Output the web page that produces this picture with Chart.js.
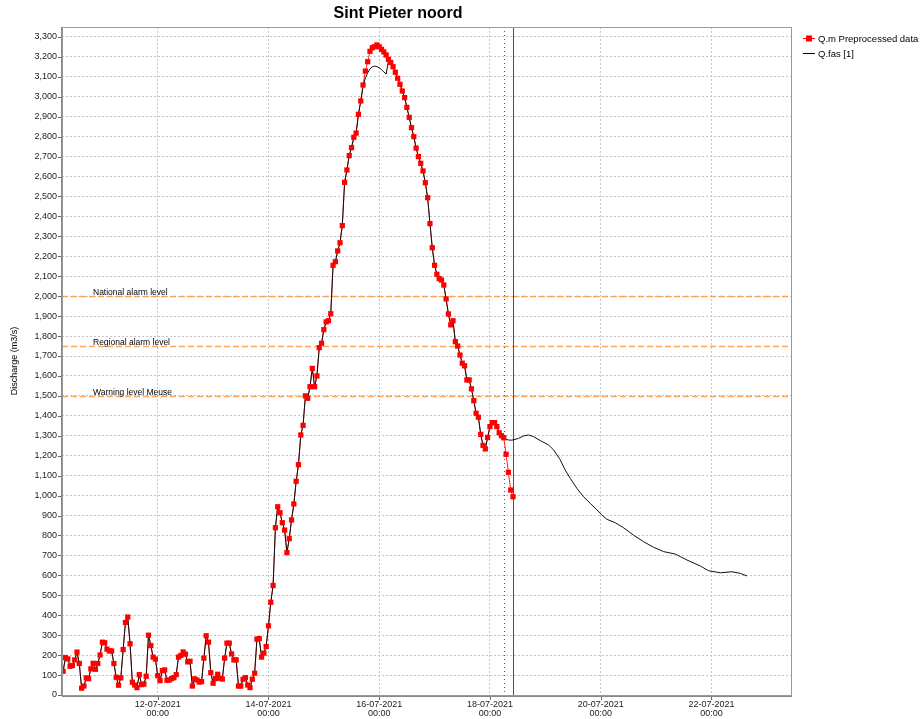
<!DOCTYPE html>
<html><head><meta charset="utf-8">
<script src="https://cdn.jsdelivr.net/npm/chart.js@4.4.0/dist/chart.umd.min.js"></script>
<style>html,body{margin:0;padding:0;background:#fff}#wrap{width:920px;height:719px;position:relative}</style>
</head><body><div id="wrap"><canvas id="c" width="920" height="719"></canvas></div>
<script>
const chartTitle = 'Sint Pieter noord';
const yAxisTitle = 'Discharge (m3/s)';
const seriesNames = ['Q.m Preprocessed data', 'Q.fas [1]'];
// hours relative to 12-07-2021 00:00
const dateTicks = [0, 48, 96, 144, 192, 240];
const dateTickLabels = [['12-07-2021','00:00'],['14-07-2021','00:00'],['16-07-2021','00:00'],['18-07-2021','00:00'],['20-07-2021','00:00'],['22-07-2021','00:00']];
const xRange = [-41.5, 274.5];
const yRange = [0, 3350];
const yTickStep = 100;
const yTickMax = 3300;

const qmStartHour = -41;
const qmValues = [
 119,188,181,144,148,176,215,158,34,45,86,82,131,159,129,158,201,265,262,230,221,221,158,89,49,86,228,364,391,257,64,50,37,102,52,55,94,300,248,190,180,
 97,72,122,126,74,75,82,87,102,190,198,216,205,166,169,45,81,75,65,67,185,297,265,112,59,82,104,84,80,185,260,260,206,176,176,45,45,79,87,50,37,79,109,280,283,190,210,243,347,465,549,
 839,944,914,864,827,714,784,878,958,1072,1155,1304,1352,
 1500,1488,1546,1638,1546,1600,1742,1764,1832,1871,1877,1912,2155,2173,2227,2268,2354,2571,2633,2705,2745,2797,2818,2912,2979,3059,3129,3176,3228,3246,3251,3260,3251,3238,3225,3210,3188,3172,3151,3123,3093,3063,3029,2996,2947,2897,2845,2800,2743,2700,2666,2628,2569,2494,2364,2243,2155,2110,2088,2081,2056,1986,1911,1856,1877,1772,1750,1705,1664,1651,1580,1580,1535,1476,1413,1393,1307,1252,1234,1292,1346,1366,1366,1346,1315,1300,1290,1207,1117,1028,994
];

const qfasStartHour = -41;
const qfasHistValues = [
 119,188,181,144,148,176,215,158,34,45,86,82,131,159,129,158,201,265,262,230,221,221,158,89,49,86,228,364,391,257,64,50,37,102,52,55,94,300,248,190,180,
 97,72,122,126,74,75,82,87,102,190,198,216,205,166,169,45,81,75,65,67,185,297,265,112,59,82,104,84,80,185,260,260,206,176,176,45,45,79,87,50,37,79,109,280,283,190,210,243,347,465,549,
 839,944,914,864,827,714,784,878,958,1072,1155,1304,1352,
 1500,1488,1546,1638,1546,1600,1742,1764,1832,1871,1877,1912,2155,2173,2227,2268,2354,2571,2633,2705,2745,2797,2818,2912,2979,3051,3095,3120,3140,3150,3154,3151,3146,3136,3125,3114,3180,3172,3151,3123,3093,3063,3029,2996,2947,2897,2845,2800,2743,2700,2666,2628,2569,2494,2364,2243,2155,2110,2088,2081,2056,1986,1911,1856,1877,1772,1750,1705,1664,1651,1580,1580,1535,1476,1413,1393,1307,1252,1234,1292,1346,1366,1366,1346,1315,1300,1290,1282,1279,1278,1279
];
const qfasFcHours = [156.4,158.5,160.7,162.9,165.8,169.4,171.6,174.5,176.6,178.8,181.7,184.6,187.5,190.4,192.5,194.7,198.3,201.9,206.2,210.6,214.9,219.3,224.3,229.4,235.2,238.8,243.9,248.9,252.5,255.4];
const qfasFcValues = [1287,1299,1304,1296,1276,1254,1229,1179,1128,1087,1036,994,961,928,903,881,864,839,802,769,741,719,707,677,647,623,613,618,610,597];

const levelValues = [2000, 1750, 1500];
const levelNames = ['National alarm level', 'Regional alarm level', 'Warning level Meuse'];
const t0Hour = 154;      // 18-07-2021 10:00
const dottedHour = 150;  // 18-07-2021 06:00

const FONT = '"Liberation Sans", Arial, sans-serif';
Chart.defaults.font.family = FONT;

const qmPoints = qmValues.map((v, i) => ({x: qmStartHour + i, y: v}));
const qfasPoints = qfasHistValues.map((v, i) => ({x: qfasStartHour + i, y: v}))
  .concat(qfasFcHours.map((h, i) => ({x: h, y: qfasFcValues[i]})));
const yTicks = [];
for (let v = yRange[0]; v <= yTickMax; v += yTickStep) yTicks.push(v);

const overlay = {
  id: 'overlay',
  beforeDraw(chart) {
    const c = chart.ctx; c.save(); c.fillStyle = '#fff'; c.fillRect(0, 0, chart.width, chart.height); c.restore();
  },
  beforeDatasetsDraw(chart) {
    const {ctx, chartArea: a, scales: {x, y}} = chart;
    ctx.save();
    ctx.beginPath(); ctx.rect(a.left, a.top, a.right - a.left, a.bottom - a.top); ctx.clip();
    levelValues.forEach((v, i) => {
      const py = Math.round(y.getPixelForValue(v)) + 0.5;
      ctx.strokeStyle = 'rgba(255,145,50,0.8)'; ctx.lineWidth = 1.5; ctx.setLineDash([6, 3]);
      ctx.beginPath(); ctx.moveTo(a.left, py); ctx.lineTo(a.right, py); ctx.stroke();
      ctx.setLineDash([]);
      ctx.fillStyle = '#000'; ctx.font = '8.5px ' + FONT; ctx.textAlign = 'left'; ctx.textBaseline = 'alphabetic';
      ctx.fillText(levelNames[i], a.left + 31, py - 2);
    });
    const dx = Math.round(x.getPixelForValue(dottedHour)) + 0.5;
    ctx.strokeStyle = '#555'; ctx.lineWidth = 1; ctx.setLineDash([1, 3]);
    ctx.beginPath(); ctx.moveTo(dx, a.top); ctx.lineTo(dx, a.bottom); ctx.stroke();
    ctx.setLineDash([]);
    const tx = Math.round(x.getPixelForValue(t0Hour)) + 0.5;
    ctx.strokeStyle = '#e01010'; ctx.lineWidth = 1;
    ctx.beginPath(); ctx.moveTo(tx, a.top); ctx.lineTo(tx, a.bottom); ctx.stroke();
    ctx.restore();
  },
  afterDraw(chart) {
    const {ctx, chartArea: a, scales: {x, y}} = chart;
    ctx.save();
    ctx.strokeStyle = '#999'; ctx.lineWidth = 1;
    ctx.strokeRect(Math.round(a.left) + 0.5, Math.round(a.top) + 0.5, Math.round(a.right - a.left), Math.round(a.bottom - a.top));
    ctx.strokeStyle = '#888'; ctx.lineWidth = 1;
    ctx.beginPath(); ctx.moveTo(Math.round(a.left) - 0.5, a.top); ctx.lineTo(Math.round(a.left) - 0.5, a.bottom + 1); ctx.stroke();
    ctx.beginPath(); ctx.moveTo(a.left, Math.round(a.bottom) + 1.5); ctx.lineTo(a.right + 1, Math.round(a.bottom) + 1.5); ctx.stroke();
    ctx.strokeStyle = '#666';
    y.ticks.forEach(t => {
      const py = Math.round(y.getPixelForValue(t.value)) + 0.5;
      ctx.beginPath(); ctx.moveTo(a.left - 4, py); ctx.lineTo(a.left - 1, py); ctx.stroke();
    });
    x.ticks.forEach(t => {
      const px = Math.round(x.getPixelForValue(t.value)) + 0.5;
      ctx.beginPath(); ctx.moveTo(px, a.bottom + 2); ctx.lineTo(px, a.bottom + 5); ctx.stroke();
    });
    ctx.fillStyle = '#000'; ctx.font = 'bold 16px ' + FONT; ctx.textAlign = 'center'; ctx.textBaseline = 'middle';
    ctx.fillText(chartTitle, 398, 14);
    ctx.save(); ctx.translate(15, (a.top + a.bottom) / 2); ctx.rotate(-Math.PI / 2);
    ctx.font = '9px ' + FONT; ctx.fillStyle = '#000'; ctx.textAlign = 'center'; ctx.textBaseline = 'middle';
    ctx.fillText(yAxisTitle, 0, 0); ctx.restore();
    const lx = a.right + 12, ly1 = 38, ly2 = 53;
    ctx.lineWidth = 1;
    ctx.strokeStyle = '#ff0000'; ctx.beginPath(); ctx.moveTo(lx, ly1 + 0.5); ctx.lineTo(lx + 12, ly1 + 0.5); ctx.stroke();
    ctx.fillStyle = '#ff0000'; ctx.fillRect(lx + 3, ly1 - 2.5, 6, 6);
    ctx.strokeStyle = '#000'; ctx.beginPath(); ctx.moveTo(lx, ly2 + 0.5); ctx.lineTo(lx + 12, ly2 + 0.5); ctx.stroke();
    ctx.fillStyle = '#000'; ctx.font = '9.5px ' + FONT; ctx.textAlign = 'left'; ctx.textBaseline = 'middle';
    ctx.fillText(seriesNames[0], lx + 15, ly1 + 1);
    ctx.fillText(seriesNames[1], lx + 15, ly2 + 1);
    ctx.restore();
  }
};

new Chart(document.getElementById('c'), {
  type: 'line',
  data: {
    datasets: [
      {label: seriesNames[0] + ' points', data: qmPoints, showLine: false, pointStyle: 'rect', pointRadius: 3.7, pointBackgroundColor: '#ff0000', pointBorderWidth: 0, borderColor: '#ff0000'},
      {label: seriesNames[1], data: qfasPoints, borderColor: '#111', borderWidth: 1, pointRadius: 0, tension: 0, fill: false},
      {label: seriesNames[0], data: qmPoints, borderColor: '#ff2020', borderWidth: 1, pointRadius: 0, tension: 0, fill: false}
    ]
  },
  options: {
    responsive: false, animation: false, events: [],
    layout: {padding: {top: 27, right: 129, left: 0, bottom: 0}},
    plugins: {legend: {display: false}, title: {display: false}, tooltip: {enabled: false}},
    scales: {
      x: {
        type: 'linear', min: xRange[0], max: xRange[1],
        afterBuildTicks: s => { s.ticks = dateTicks.map(v => ({value: v})); },
        afterFit: s => { s.height = 24; },
        grid: {color: '#c4c4c4', lineWidth: 1, drawTicks: false},
        border: {display: false, dash: [2, 2]},
        ticks: {
          autoSkip: false, maxRotation: 0, padding: 5, color: '#222',
          font: {size: 9, lineHeight: 1.0},
          callback: (v) => { const i = dateTicks.indexOf(v); return i >= 0 ? dateTickLabels[i] : ''; }
        }
      },
      y: {
        type: 'linear', min: yRange[0], max: yRange[1],
        afterBuildTicks: s => { s.ticks = yTicks.map(v => ({value: v})); },
        afterFit: s => { s.width = 62; },
        grid: {color: '#c4c4c4', lineWidth: 1, drawTicks: false},
        border: {display: false, dash: [2, 2]},
        ticks: {autoSkip: false, padding: 5, color: '#222', font: {size: 9},
          callback: v => v.toLocaleString('en-US')}
      }
    }
  },
  plugins: [overlay]
});
</script>
</body></html>
